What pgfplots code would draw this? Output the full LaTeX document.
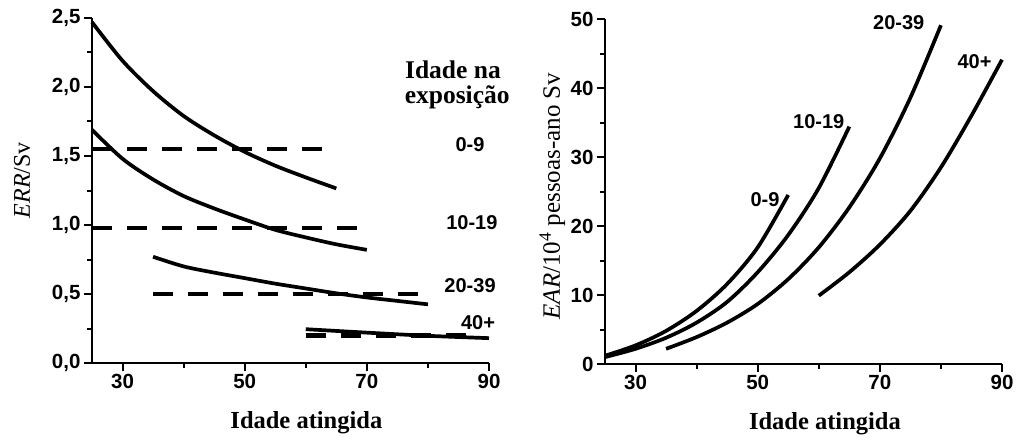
\documentclass[border=0pt]{standalone}
\usepackage{pgfplots}
\pgfplotsset{compat=1.18}
\usepackage{fontspec}
\setmainfont{Liberation Serif}
\newfontfamily\arial{Liberation Sans}
\tikzset{
  curve/.style={black, line width=3.7pt, smooth},
  dsh/.style={black, line width=4.2pt, dash pattern=on 20pt off 15pt},
  lab/.style={font=\arial\bfseries\fontsize{20}{20}\selectfont, anchor=center},
}
\pgfplotsset{
  myax/.style={
    scale only axis, width=397pt, height=345pt, anchor=south west,
    xmin=25, xmax=90, xtick={30,50,70,90}, minor xtick={40,60,80},
    axis x line*=bottom, axis y line*=left,
    axis line style={line width=2.4pt,-},
    every outer x axis line/.append style={-},
    every outer y axis line/.append style={-},
    tick align=outside, major tick length=8pt, minor tick length=5pt,
    every tick/.style={black, line width=2pt},
    tick label style={font=\arial\bfseries\fontsize{20.5}{20.5}\selectfont},
    /pgf/number format/assume math mode=true,
    clip=false,
    xlabel={\bfseries Idade atingida},
    xlabel style={font=\fontsize{24.5}{24.5}\selectfont, anchor=base},
  }
}
\begin{document}
\begin{tikzpicture}
\path[use as bounding box] (0,0) rectangle (1016pt,439pt);
% ---------------- left panel ----------------
\begin{axis}[myax, at={(92pt,76pt)},
  ymin=0, ymax=2.5, ytick={0,0.5,...,2.5}, minor ytick={0.25,0.75,...,2.25},
  yticklabel style={/pgf/number format/.cd, fixed, fixed zerofill, precision=1, use comma},
  xlabel style={at={(axis description cs:0.54,-0.19)}},
  ylabel={\itshape ERR\upshape/Sv},
  ylabel style={font=\fontsize{24}{24}\selectfont, at={(axis description cs:-0.176,0.53)}, rotate=0, anchor=center},
]
\addplot[curve] coordinates {(25,2.47) (30,2.19) (35,1.97) (40,1.79) (45,1.65) (50,1.53) (55,1.43) (60,1.345) (65,1.265)};
\addplot[curve] coordinates {(25,1.69) (30,1.48) (35,1.33) (40,1.21) (45,1.12) (50,1.04) (55,0.965) (60,0.91) (65,0.86) (70,0.82)};
\addplot[curve] coordinates {(35,0.77) (40,0.70) (45,0.655) (50,0.615) (55,0.575) (60,0.54) (65,0.505) (70,0.475) (75,0.45) (80,0.425)};
\addplot[curve] coordinates {(60,0.245) (70,0.22) (80,0.197) (90,0.18)};
\addplot[dsh] coordinates {(25,1.55) (65,1.55)};
\addplot[dsh] coordinates {(25,0.98) (70,0.98)};
\addplot[dsh] coordinates {(35,0.50) (80,0.50)};
\addplot[dsh] coordinates {(60,0.20) (88,0.20)};
\node[font=\bfseries\fontsize{25.5}{25.5}\selectfont, anchor=base] at (axis cs:84.1,2.058) {Idade na};
\node[font=\bfseries\fontsize{25.5}{25.5}\selectfont, anchor=base] at (axis cs:84.8,1.884) {exposição};
\node[lab] at (axis cs:86.9,1.58) {0-9};
\node[lab] at (axis cs:87.2,1.018) {10-19};
\node[lab] at (axis cs:86.9,0.56) {20-39};
\node[lab] at (axis cs:88.2,0.293) {40+};
\end{axis}
% ---------------- right panel ----------------
\begin{axis}[myax, at={(605pt,75pt)},
  ymin=0, ymax=50, ytick={0,10,...,50}, minor ytick={5,15,...,45},
  xlabel style={at={(axis description cs:0.554,-0.19)}},
  ylabel={\itshape EAR\upshape/10\textsuperscript{4} pessoas-ano Sv},
  ylabel style={font=\fontsize{25}{25}\selectfont, at={(axis description cs:-0.133,0.487)}, rotate=0, anchor=center},
]
\addplot[curve] coordinates {(25,1.2) (30,2.7) (35,4.8) (40,7.7) (45,11.6) (50,16.9) (55,24.5)};
\addplot[curve] coordinates {(25,1.0) (30,2.2) (35,3.8) (40,6.0) (45,9.0) (50,13.3) (55,18.7) (60,25.5) (65,34.4)};
\addplot[curve] coordinates {(35,2.2) (40,3.9) (45,6.0) (50,8.7) (55,12.3) (60,16.9) (65,22.7) (70,29.8) (75,38.6) (80,49.1)};
\addplot[curve] coordinates {(60,9.9) (65,13.3) (70,17.3) (75,22.2) (80,28.5) (85,36.0) (90,44.1)};
\node[lab] at (axis cs:51.2,23.8) {0-9};
\node[lab] at (axis cs:60.0,35.1) {10-19};
\node[lab] at (axis cs:73.1,49.5) {20-39};
\node[lab] at (axis cs:85.5,43.8) {40+};
\end{axis}
\end{tikzpicture}
\end{document}
